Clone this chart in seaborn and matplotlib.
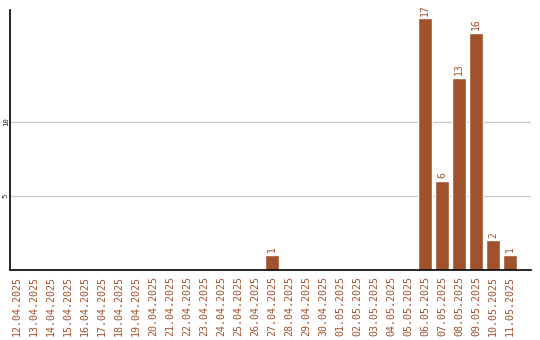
import matplotlib
matplotlib.use("Agg")
import matplotlib.pyplot as plt
import seaborn as sns
import pandas as pd

dates = ["12.04.2025", "13.04.2025", "14.04.2025", "15.04.2025", "16.04.2025",
         "17.04.2025", "18.04.2025", "19.04.2025", "20.04.2025", "21.04.2025",
         "22.04.2025", "23.04.2025", "24.04.2025", "25.04.2025", "26.04.2025",
         "27.04.2025", "28.04.2025", "29.04.2025", "30.04.2025", "01.05.2025",
         "02.05.2025", "03.05.2025", "04.05.2025", "05.05.2025", "06.05.2025",
         "07.05.2025", "08.05.2025", "09.05.2025", "10.05.2025", "11.05.2025"]
counts = [0, 0, 0, 0, 0, 0, 0, 0, 0, 0, 0, 0, 0, 0, 0,
          1, 0, 0, 0, 0, 0, 0, 0, 0, 17, 6, 13, 16, 2, 1]
yticks = [5, 10]

color = "#A0522D"
sns.set_style("white")
plt.rcParams['font.family'] = ['DejaVu Sans Mono', 'DejaVu Sans']

df = pd.DataFrame({"date": dates, "count": counts})

fig = plt.figure(figsize=(5.4, 3.4), dpi=100)
ax = fig.add_axes([10/540, 1 - 270/340, 521/540, 260/340])
sns.barplot(data=df, x="date", y="count", color=color, saturation=1,
            width=0.82, ax=ax, order=dates)

for i, v in enumerate(counts):
    if v > 0:
        ax.annotate(str(v), (i, v), xytext=(0, 2), textcoords="offset points",
                    rotation=90, ha="center", va="bottom", color=color, fontsize=7)

ax.set_xlim(-0.41, 30.24)
ax.set_ylim(0, 17.57)
ax.set_yticks(yticks)
ax.set_yticklabels([str(t) for t in yticks], rotation=90, va="center", fontsize=5.2)
ax.yaxis.grid(True, color="#c8c8c8", linewidth=0.9)
ax.set_axisbelow(True)
ax.tick_params(axis="both", length=0)
ax.tick_params(axis="y", pad=1)
ax.tick_params(axis="x", pad=4)
plt.setp(ax.get_xticklabels(), rotation=90, color=color, fontsize=7.2)
ax.set_xlabel("")
ax.set_ylabel("")
for s in ["top", "right"]:
    ax.spines[s].set_visible(False)
for s in ["left", "bottom"]:
    ax.spines[s].set_color("black")
    ax.spines[s].set_linewidth(1.2)

fig.savefig("out.png", dpi=100)
